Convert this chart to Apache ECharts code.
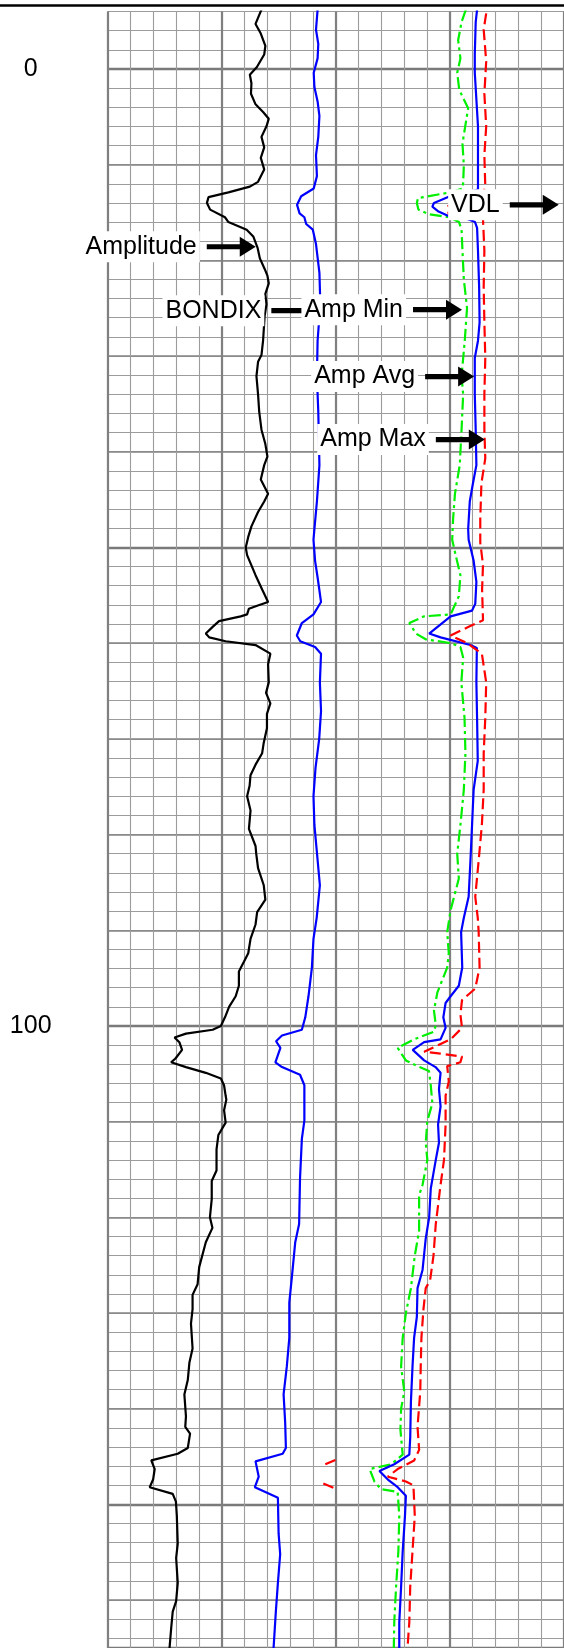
<!DOCTYPE html>
<html><head><meta charset="utf-8">
<script src="https://cdn.jsdelivr.net/npm/echarts@6/dist/echarts.min.js"></script>
<style>html,body{margin:0;padding:0;background:#fff}#c{width:564px;height:1648px}</style>
</head><body><div id="c"></div>
<script>
// ---- axes ----
const depthMin = -6, depthMax = 165;
const trackMin = 0, trackMax = 20;
const depthLabels = [0, 100];

// ---- curves: [depth, value in track divisions] ----
const amplitude = [[-6.2,6.74],[-4.7,6.48],[-3.7,6.71],[-2.4,6.91],[-1.5,6.86],[-0.2,6.54],[0.6,6.23],[1.5,6.30],[2.6,6.28],[3.7,6.48],[4.5,6.81],[5.2,7.06],[6.0,6.96],[7.1,6.74],[8.2,6.86],[9.3,6.71],[10.5,6.86],[11.8,6.59],[12.3,6.23],[12.9,5.29],[13.4,4.42],[14.0,4.35],[14.7,4.49],[15.5,5.14],[16.0,5.29],[16.8,6.09],[17.5,6.38],[18.7,6.57],[19.8,6.67],[20.9,6.88],[21.6,7.0],[22.4,7.06],[23.5,6.91],[24.6,6.96],[25.8,6.88],[28.4,6.81],[29.9,6.74],[30.6,6.59],[32.1,6.52],[34.0,6.59],[35.8,6.64],[37.7,6.74],[39.2,6.91],[40.5,7.0],[41.4,6.86],[42.9,6.71],[44.4,7.03],[45.2,6.86],[46.3,6.59],[47.8,6.30],[48.9,6.16],[50.0,6.05],[50.8,6.11],[52.9,6.48],[54.4,6.77],[55.7,7.03],[56.1,6.55],[56.4,6.19],[57.0,6.11],[57.2,5.83],[57.7,4.88],[58.3,4.6],[59.0,4.3],[59.4,4.45],[59.8,5.17],[60.2,6.48],[61.1,7.13],[62.2,7.03],[64.1,7.06],[65.2,6.94],[66.3,7.13],[67.4,6.98],[68.9,6.98],[70.4,6.84],[71.5,6.77],[72.7,6.48],[73.8,6.26],[74.9,6.22],[76.0,6.11],[77.5,6.26],[79.4,6.19],[81.2,6.48],[82.0,6.51],[83.5,6.59],[85.3,6.84],[86.8,6.91],[88.1,6.55],[89.4,6.48],[90.9,6.26],[92.4,6.16],[93.3,5.97],[94.3,5.75],[95.8,5.75],[96.9,5.61],[98.0,5.32],[99.1,5.14],[100.0,4.96],[100.4,4.6],[100.8,3.43],[101.2,2.93],[101.7,3.14],[102.5,3.26],[103.4,2.97],[103.8,2.78],[104.3,3.43],[104.9,4.3],[105.5,4.96],[106.2,5.1],[107.3,5.17],[107.7,5.2],[108.8,5.1],[110.1,5.17],[111.4,4.85],[112.9,4.77],[115.1,4.77],[116.2,4.56],[118.1,4.56],[120.0,4.48],[121.1,4.59],[122.6,4.3],[125.2,4.01],[127.0,3.94],[128.1,3.72],[129.6,3.72],[131.1,3.65],[133.7,3.72],[135.2,3.58],[137.0,3.51],[138.5,3.36],[140.8,3.43],[141.9,3.4],[142.6,3.61],[144.1,3.51],[144.7,3.07],[145.4,1.91],[146.3,2.06],[147.4,1.99],[148.2,1.84],[148.9,2.85],[149.7,2.99],[151.2,3.03],[154.1,3.07],[155.6,3.0],[158.2,3.07],[160.1,3.0],[161.2,2.85],[163.0,2.78],[165.0,2.71]];

const bondix = [[-6.2,9.2],[-4.1,9.13],[-2.6,9.23],[-1.1,9.2],[0.4,9.03],[1.9,9.06],[3.4,9.2],[4.9,9.28],[7.1,9.23],[9.0,9.13],[11.2,9.17],[12.5,9.03],[13.3,8.48],[14.2,8.3],[15.1,8.41],[15.5,8.62],[16.2,8.7],[16.8,8.99],[18.3,9.13],[21.3,9.28],[24.6,9.32],[28.4,9.2],[32.1,9.17],[35.8,9.23],[41.4,9.28],[45.2,9.17],[48.1,9.06],[49.2,9.02],[51.4,9.09],[53.3,9.21],[55.7,9.35],[57.0,9.02],[57.9,8.51],[59.2,8.29],[59.8,8.44],[60.4,9.09],[61.1,9.35],[64.1,9.3],[67.1,9.35],[70.0,9.27],[73.0,9.11],[76.0,9.02],[79.0,9.06],[81.6,9.16],[85.3,9.3],[88.7,9.16],[90.9,9.02],[93.9,8.95],[96.9,8.8],[99.1,8.66],[100.4,8.51],[101.0,7.64],[101.6,7.38],[102.3,7.57],[103.8,7.35],[104.3,7.64],[105.1,8.43],[106.2,8.62],[108.4,8.62],[109.9,8.62],[111.8,8.51],[115.9,8.43],[120.7,8.39],[122.6,8.22],[126.3,8.07],[128.9,7.96],[132.6,7.96],[135.6,7.85],[138.5,7.71],[141.5,7.78],[144.1,7.81],[144.7,7.67],[145.5,6.48],[147.1,6.62],[148.2,6.45],[148.7,6.91],[149.3,7.46],[153.0,7.49],[155.2,7.56],[158.2,7.46],[161.2,7.37],[165.0,7.27]];

const ampMin = [[-6.2,15.7],[-4.9,15.51],[-3.0,15.36],[-1.1,15.46],[0.4,15.32],[2.2,15.41],[4.1,15.8],[6.3,15.65],[7.8,15.55],[10.1,15.61],[11.9,15.58],[12.5,15.55],[12.9,15.0],[13.5,13.6],[14.0,13.55],[14.7,13.62],[15.2,14.1],[15.5,14.96],[16.0,15.4],[16.8,15.51],[19.0,15.55],[22.0,15.61],[25.0,15.75],[28.4,15.65],[32.1,15.51],[34.0,15.58],[37.7,15.51],[41.4,15.43],[44.4,15.22],[47.0,15.14],[49.2,15.1],[50.7,15.24],[52.9,15.46],[55.1,15.39],[57.0,15.03],[57.2,13.87],[57.9,13.22],[59.0,13.51],[59.6,13.94],[60.0,15.03],[60.4,15.46],[61.5,15.58],[64.1,15.5],[67.8,15.64],[71.5,15.68],[75.3,15.61],[79.0,15.46],[82.0,15.32],[84.6,15.39],[87.9,15.03],[90.2,14.88],[92.4,14.95],[93.9,14.88],[96.5,14.45],[98.4,14.3],[99.9,14.38],[100.6,14.3],[101.4,13.43],[102.3,12.71],[103.6,13.07],[104.2,13.58],[104.7,14.08],[106.2,14.16],[108.1,14.23],[109.9,14.01],[112.2,13.94],[114.0,14.01],[116.6,13.8],[117.7,13.65],[121.4,13.65],[124.0,13.46],[127.4,13.29],[130.0,13.07],[132.6,12.93],[135.6,12.86],[138.2,13.0],[140.0,12.86],[142.2,12.83],[144.8,12.93],[145.8,12.42],[146.3,11.48],[147.6,11.69],[148.4,11.98],[148.7,12.71],[151.2,12.78],[154.9,12.74],[158.6,12.64],[162.3,12.56],[165.0,12.54]];

const ampAvg = [[-6.2,16.19],[-4.9,16.13],[-1.5,16.09],[0.4,16.09],[6.0,16.23],[11.6,16.23],[12.6,16.23],[13.0,15.6],[13.3,15.0],[14.0,14.3],[14.4,14.23],[14.9,14.5],[15.4,14.96],[15.7,15.8],[16.0,16.1],[16.6,16.19],[19.0,16.23],[22.8,16.28],[26.5,16.3],[28.4,16.23],[30.2,16.09],[34.0,16.09],[37.7,16.13],[41.4,16.16],[43.3,16.01],[45.2,15.87],[48.1,15.8],[49.2,15.82],[51.4,16.04],[53.6,16.16],[55.9,16.11],[56.6,15.97],[57.2,15.03],[59.0,14.09],[59.4,14.59],[60.2,15.9],[60.5,16.18],[64.1,16.16],[67.8,16.19],[72.3,16.22],[75.3,16.04],[79.0,15.97],[82.7,15.9],[86.5,15.82],[88.7,15.61],[90.2,15.49],[93.9,15.54],[95.8,15.39],[96.9,15.03],[97.6,14.81],[99.1,14.71],[100.2,14.81],[101.4,14.59],[101.7,13.87],[102.5,13.37],[103.6,13.87],[104.3,14.37],[104.9,14.59],[106.6,14.52],[108.4,14.59],[110.3,14.48],[112.2,14.52],[114.0,14.38],[117.0,14.16],[120.0,14.09],[122.2,13.94],[125.5,13.8],[127.4,13.58],[130.4,13.55],[132.6,13.43],[135.6,13.36],[139.3,13.29],[143.0,13.26],[144.8,13.22],[145.8,12.56],[146.5,11.91],[147.4,12.28],[148.2,12.71],[149.1,13.07],[151.2,13.03],[154.9,12.93],[158.6,12.86],[162.3,12.78],[165.0,12.78]];

const ampMax = [[-5.8,16.59],[-4.1,16.48],[-0.8,16.59],[2.6,16.51],[6.0,16.59],[9.0,16.51],[12.3,16.55],[12.9,16.48],[13.8,15.2],[14.4,14.9],[15.2,14.95],[15.7,16.45],[19.0,16.51],[22.8,16.48],[26.5,16.51],[30.2,16.55],[34.0,16.51],[37.7,16.51],[40.7,16.55],[43.3,16.38],[47.0,16.33],[49.5,16.33],[51.8,16.45],[54.4,16.41],[57.6,16.45],[58.3,15.82],[59.2,15.03],[60.0,15.75],[61.1,16.4],[64.1,16.59],[67.8,16.55],[71.5,16.48],[75.3,16.48],[79.0,16.4],[82.7,16.26],[86.5,16.11],[88.7,16.22],[90.2,16.26],[93.9,16.3],[96.1,16.11],[97.3,15.53],[98.8,15.46],[100.2,15.53],[101.4,15.03],[102.7,13.87],[102.9,14.59],[103.2,15.53],[103.8,15.46],[104.2,14.88],[105.8,14.95],[107.3,14.81],[110.3,14.81],[114.0,14.74],[116.6,14.59],[120.7,14.38],[124.0,14.28],[126.6,14.13],[127.4,13.94],[129.6,13.84],[132.6,13.75],[135.6,13.72],[138.2,13.7],[141.9,13.58],[144.3,13.65],[145.4,13.43],[146.3,12.71],[147.1,12.28],[147.6,13.07],[148.0,13.4],[151.2,13.46],[154.9,13.36],[158.6,13.26],[162.3,13.22],[165.0,13.14]];

const ampMaxWrapA = [[145.35,9.98],[145.85,9.5]];
const ampMaxWrapB = [[147.8,9.45],[148.35,9.98]];

// ---- annotations: label text and arrow tip [value, depth] ----
const annotations = [
  {text:'Amplitude', tip:[6.49,18.58]},
  {text:'BONDIX',    tip:[9.32,25.26]},
  {text:'Amp Min',   tip:[15.53,25.16]},
  {text:'Amp Avg',   tip:[16.06,32.15]},
  {text:'Amp Max',   tip:[16.53,38.73]},
  {text:'VDL',       tip:[19.77,14.2]}
];

const FONT = '"Liberation Sans", Arial, Helvetica, sans-serif';
const chart = echarts.init(document.getElementById('c'), null, {renderer:'canvas'});

function curve(name, pts, color, dash) {
  return {
    name, type:'line', xAxisIndex:0, yAxisIndex:0,
    data: pts.map(p => [p[1], p[0]]),
    showSymbol:false, symbol:'none', silent:true, animation:false, z:5,
    lineStyle:{color, width:2.2, type:dash || 'solid'}
  };
}
const hiddenAxis = {axisLine:{show:false}, axisTick:{show:false}, axisLabel:{show:false}};

const gridLeft = 107.7, pxPerDiv = 23, pxPerDepth = 9.58, gridTop = 11.5;

chart.setOption({
  animation:false,
  grid:[
    {left:gridLeft, top:gridTop, width:pxPerDiv*(trackMax-trackMin), height:pxPerDepth*(depthMax-depthMin)},
    {left:gridLeft, top:gridTop + pxPerDepth*(0-depthMin), width:pxPerDiv*(trackMax-trackMin), height:pxPerDepth*(depthMax-0)}
  ],
  xAxis:[
    Object.assign({type:'value', gridIndex:0, min:trackMin, max:trackMax, interval:1,
      splitLine:{show:true, lineStyle:{color:'#9c9c9c', width:1.1}}}, hiddenAxis),
    Object.assign({type:'value', gridIndex:0, min:trackMin, max:trackMax, interval:5,
      splitLine:{show:true, lineStyle:{color:'#808080', width:2.2}}}, hiddenAxis),
    Object.assign({type:'value', gridIndex:1, min:trackMin, max:trackMax, interval:5,
      splitLine:{show:false}}, hiddenAxis)
  ],
  yAxis:[
    Object.assign({type:'value', gridIndex:0, inverse:true, min:depthMin, max:depthMax, interval:2,
      splitLine:{show:true, lineStyle:{color:'#9c9c9c', width:1.1}}}, hiddenAxis),
    Object.assign({type:'value', gridIndex:1, inverse:true, min:0, max:depthMax, interval:10,
      splitLine:{show:true, lineStyle:{color:'#858585', width:1.7}}}, hiddenAxis),
    {type:'value', gridIndex:1, inverse:true, min:0, max:depthMax, interval:50, position:'left',
      axisLine:{show:false}, axisTick:{show:false},
      splitLine:{show:true, lineStyle:{color:'#7a7a7a', width:2.4}},
      axisLabel:{show:true, margin:77, align:'center', fontSize:25, color:'#000', fontFamily:FONT,
        formatter: v => depthLabels.includes(v) ? String(v) : ''}}
  ],
  series:[
    curve('Amplitude', amplitude, '#000000'),
    curve('BONDIX', bondix, '#0000ff'),
    curve('Amp Min', ampMin, '#00f000', [12,4,3,4]),
    curve('Amp Avg', ampAvg, '#0000ff'),
    curve('Amp Max', ampMax, '#ff0000', [11,5]),
    curve('Amp Max wrap', ampMaxWrapA, '#ff0000', [11,5]),
    curve('Amp Max wrap 2', ampMaxWrapB, '#ff0000', [11,5])
  ]
});

const elems = [{type:'line', shape:{x1:0, y1:5.5, x2:564, y2:5.5}, style:{stroke:'#000', lineWidth:2.6}, z:200}];
annotations.forEach((a, i) => {
  const [tx, ty] = chart.convertToPixel({xAxisIndex:0, yAxisIndex:0}, a.tip);
  const z = 100 + i * 3;
  elems.push({type:'text', x:tx - 56, y:ty, z,
    style:{text:a.text, font:'25px ' + FONT, fill:'#000', align:'right', verticalAlign:'middle',
      backgroundColor:'#fff', padding:[3,3,3,3], lineHeight:25}});
  elems.push({type:'rect', z:z+1, shape:{x:tx - 49, y:ty - 2.6, width:34, height:5.2}, style:{fill:'#000'}});
  elems.push({type:'polygon', z:z+1, shape:{points:[[tx, ty], [tx - 16, ty - 10], [tx - 16, ty + 10]]}, style:{fill:'#000'}});
});
chart.setOption({graphic:elems});
</script></body></html>
